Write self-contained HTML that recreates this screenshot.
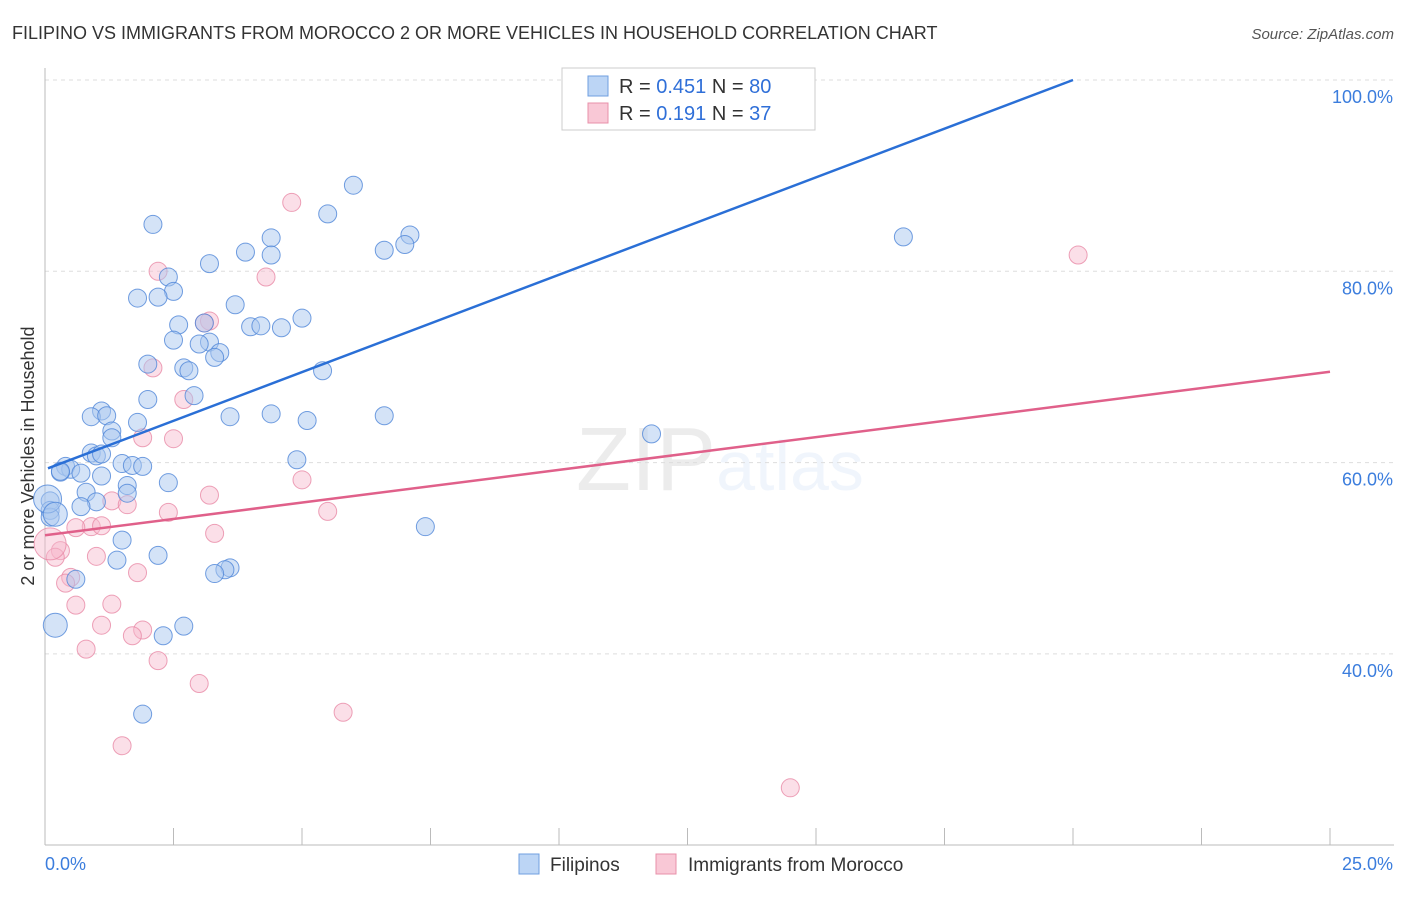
<!DOCTYPE html>
<html><head><meta charset="utf-8"><style>
body{margin:0;background:#fff;font-family:"Liberation Sans",sans-serif;}
svg text{font-family:"Liberation Sans",sans-serif;}
</style></head><body>
<svg id="chart" width="1406" height="892" xmlns="http://www.w3.org/2000/svg">
<text x="12" y="39" font-size="18" fill="#333">FILIPINO VS IMMIGRANTS FROM MOROCCO 2 OR MORE VEHICLES IN HOUSEHOLD CORRELATION CHART</text>
<text x="1394" y="39" font-size="15" fill="#555" text-anchor="end" font-style="italic">Source: ZipAtlas.com</text>
<text x="720" y="490" font-size="90" text-anchor="middle" fill="#000" opacity="0.07" font-family="Liberation Serif">ZIP<tspan fill="#3b7ddd" opacity="1" font-family="Liberation Sans" font-size="70">atlas</tspan></text>
<text transform="translate(34,456) rotate(-90)" font-size="18" fill="#333" text-anchor="middle">2 or more Vehicles in Household</text>
<g id="grid"></g><g id="axes"></g><g id="pts"></g><g id="lines"></g>
<g>
<rect x="562" y="68" width="253" height="62" fill="#fff" stroke="#ccc"/>
<rect x="588" y="76" width="20" height="20" fill="#bcd5f5" stroke="#6f9fe0"/>
<text x="619" y="93" font-size="20" fill="#333">R = <tspan fill="#2f6fd8">0.451</tspan>   N = <tspan fill="#2f6fd8">80</tspan></text>
<rect x="588" y="103" width="20" height="20" fill="#f9c8d6" stroke="#e890aa"/>
<text x="619" y="120" font-size="20" fill="#333">R =  <tspan fill="#2f6fd8">0.191</tspan>   N =  <tspan fill="#2f6fd8">37</tspan></text>
</g>
<g>
<rect x="519" y="854" width="20" height="20" fill="#bcd5f5" stroke="#6f9fe0"/>
<text x="550" y="871" font-size="19" fill="#333">Filipinos</text>
<rect x="656" y="854" width="20" height="20" fill="#f9c8d6" stroke="#e890aa"/>
<text x="688" y="871" font-size="19" fill="#333">Immigrants from Morocco</text>
</g>
</svg>
<script>
const blueX=[6.0,2.1,5.5,7.1,7.0,6.6,4.4,4.4,3.9,3.2,16.7,2.4,2.5,1.8,2.2,3.7,5.0,3.1,2.6,4.0,4.2,4.6,2.5,3.2,3.0,3.4,3.3,2.0,2.7,2.8,5.4,2.9,2.0,1.1,0.9,1.2,3.6,4.4,6.6,5.1,1.8,1.3,1.3,11.8,0.9,1.0,1.1,4.9,1.5,1.7,1.9,0.4,0.5,0.3,0.7,1.1,2.4,1.6,0.8,1.6,1.0,0.7,0.1,0.1,0.1,7.4,1.5,2.2,1.4,3.6,3.5,3.3,0.6,0.2,2.7,2.3,1.9,0.3,0.05,0.2];
const blueY=[89.0,84.9,86.0,83.8,82.8,82.2,83.5,81.7,82.0,80.8,83.6,79.4,77.9,77.2,77.3,76.5,75.1,74.6,74.4,74.2,74.3,74.1,72.8,72.6,72.4,71.5,71.0,70.3,69.9,69.6,69.6,67.0,66.6,65.4,64.8,64.9,64.8,65.1,64.9,64.4,64.2,63.3,62.6,63.0,61.0,60.7,60.9,60.3,59.9,59.7,59.6,59.6,59.3,59.0,58.9,58.6,57.9,57.6,56.9,56.8,55.9,55.4,56.0,55.0,54.3,53.3,51.9,50.3,49.8,49.0,48.8,48.4,47.8,43.0,42.9,41.9,33.7,59.1,56.2,54.6];
const blueR=[9,9,9,9,9,9,9,9,9,9,9,9,9,9,9,9,9,9,9,9,9,9,9,9,9,9,9,9,9,9,9,9,9,9,9,9,9,9,9,9,9,9,9,9,9,9,9,9,9,9,9,9,9,9,9,9,9,9,9,9,9,9,9,9,9,9,9,9,9,9,9,9,9,12,9,9,9,9,14,12];
const pinkX=[4.8,20.1,2.2,4.3,3.2,3.1,2.1,2.7,1.9,2.5,3.2,5.0,1.3,1.6,2.4,5.5,0.9,0.6,1.1,3.3,0.3,0.2,1.0,1.8,0.5,0.4,0.6,1.3,1.1,1.9,1.7,0.8,2.2,3.0,5.8,1.5,14.5,0.1];
const pinkY=[87.2,81.7,80.0,79.4,74.8,74.6,69.9,66.6,62.6,62.5,56.6,58.2,56.0,55.6,54.8,54.9,53.3,53.2,53.4,52.6,50.8,50.1,50.2,48.5,48.0,47.4,45.1,45.2,43.0,42.5,41.9,40.5,39.3,36.9,33.9,30.4,26.0,51.5];
const pinkR=[9,9,9,9,9,9,9,9,9,9,9,9,9,9,9,9,9,9,9,9,9,9,9,9,9,9,9,9,9,9,9,9,9,9,9,9,9,16];
const xTicks=[0,2.5,5,7.5,10,12.5,15,17.5,20,22.5,25];
const yTicks=[40,60,80,100];
const yTickLabels=["40.0%","60.0%","80.0%","100.0%"];
const blueLine=[0,59.4,20,100];
const pinkLine=[0,52.4,25,69.5];
const NS="http://www.w3.org/2000/svg";
const X=v=>45+v*51.4, Y=v=>80+(100-v)*9.565;
function mk(t,a,p){const e=document.createElementNS(NS,t);for(const k in a)e.setAttribute(k,a[k]);p.appendChild(e);return e;}
const grid=document.getElementById('grid'),axes=document.getElementById('axes');
yTicks.forEach((t,i)=>{
 const g=mk('line',{x1:45,x2:1394,y1:Y(t),y2:Y(t),stroke:'#ddd','stroke-dasharray':'4,4'},grid);
 
 
 const l=mk('text',{x:1393,y:Y(t)+23,'font-size':18,fill:'#3b7ddd','text-anchor':'end'},axes);
 l.textContent=yTickLabels[i];
 
 
});
const ax=mk('line',{x1:45,x2:1394,y1:845,y2:845,stroke:'#bbb'},axes);


const ay=mk('line',{x1:45,x2:45,y1:68,y2:845,stroke:'#bbb'},axes);


xTicks.forEach(t=>{const k=mk('line',{x1:X(t),x2:X(t),y1:828,y2:845,stroke:'#bbb'},axes);
 
 });
const xl0=mk('text',{x:45,y:870,'font-size':18,fill:'#3b7ddd'},axes);xl0.textContent=xTicks[0].toFixed(1)+'%';


const xl1=mk('text',{x:1393,y:870,'font-size':18,fill:'#3b7ddd','text-anchor':'end'},axes);xl1.textContent=xTicks[10].toFixed(1)+'%';


const pts=document.getElementById('pts');
pinkX.forEach((v,i)=>{const c=mk('circle',{cx:X(v),cy:Y(pinkY[i]),r:pinkR[i],fill:'#f7b8cb','fill-opacity':0.45,stroke:'#e889a6','stroke-opacity':0.8},pts);
 
 });
blueX.forEach((v,i)=>{const c=mk('circle',{cx:X(v),cy:Y(blueY[i]),r:blueR[i],fill:'#a9c8f0','fill-opacity':0.5,stroke:'#4f86d8','stroke-opacity':0.8},pts);
 
 });
const lines=document.getElementById('lines');
const bl=mk('line',{x1:X(blueLine[0])+3,y1:Y(blueLine[1]),x2:X(blueLine[2]),y2:Y(blueLine[3]),stroke:'#2a6fd6','stroke-width':2.5},lines);


const pl=mk('line',{x1:X(pinkLine[0]),y1:Y(pinkLine[1]),x2:X(pinkLine[2]),y2:Y(pinkLine[3]),stroke:'#e0608a','stroke-width':2.5},lines);


</script>
</body></html>
